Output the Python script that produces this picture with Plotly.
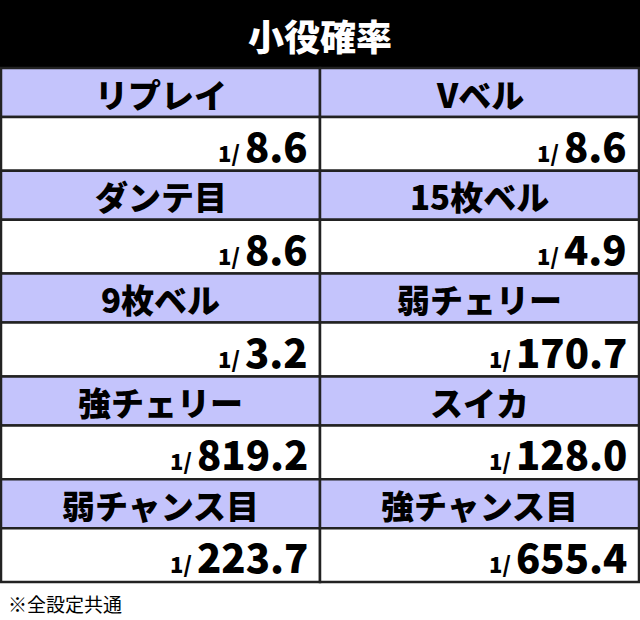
import plotly.graph_objects as go

title = "小役確率"
names = ["リプレイ", "Vベル", "ダンテ目", "15枚ベル", "9枚ベル", "弱チェリー",
         "強チェリー", "スイカ", "弱チャンス目", "強チャンス目"]
denoms = ["8.6", "8.6", "8.6", "4.9", "3.2", "170.7", "819.2", "128.0", "223.7", "655.4"]
note = "※全設定共通"

W, H = 640, 620
FONT = "Noto Sans CJK JP"
def py(p): return 1 - p / H
def px(p): return p / W

fig = go.Figure()
shapes, anns = [], []
shapes.append(dict(type="rect", xref="paper", yref="paper", x0=0, x1=1, y0=py(68), y1=1,
                   fillcolor="black", line_width=0, layer="below"))
def ann(text, x, y, size, color="#000", xa="center", weight=900):
    anns.append(dict(text=text, x=x, y=y, xref="paper", yref="paper", showarrow=False,
                     xanchor=xa, yanchor="middle",
                     font=dict(family=FONT, size=size, color=color, weight=weight)))
ann(title, 0.5, py(35), 36, "white")
top, hh, vh = 68, 49, 53.8
for i, (n, d) in enumerate(zip(names, denoms)):
    r, c = divmod(i, 2)
    y0 = top + r * (hh + vh)
    xl, xr = (1, 320) if c == 0 else (320, 639)
    shapes.append(dict(type="rect", xref="paper", yref="paper", x0=px(xl), x1=px(xr),
                       y0=py(y0 + hh), y1=py(y0), fillcolor="#c4c4fc",
                       line=dict(color="#222", width=2.5), layer="below"))
    shapes.append(dict(type="rect", xref="paper", yref="paper", x0=px(xl), x1=px(xr),
                       y0=py(y0 + hh + vh), y1=py(y0 + hh), fillcolor="white",
                       line=dict(color="#222", width=2.5), layer="below"))
    ann(n, px((xl + xr) / 2), py(y0 + hh / 2 + 1), 33)
    ann("<span style='font-size:22px'>1/ </span>" + d, px(xr - 10), py(y0 + hh + vh / 2 + 1), 40, xa="right")
ann(note, px(6), py(603), 19, xa="left", weight="normal")
fig.update_layout(width=W, height=H, margin=dict(l=0, r=0, t=0, b=0), plot_bgcolor="white",
                  paper_bgcolor="white", shapes=shapes, annotations=anns,
                  xaxis=dict(visible=False), yaxis=dict(visible=False))
fig.write_html("out.html", config={"displayModeBar": False},
               post_script="document.body.style.margin='0';document.body.style.overflow='hidden';")
